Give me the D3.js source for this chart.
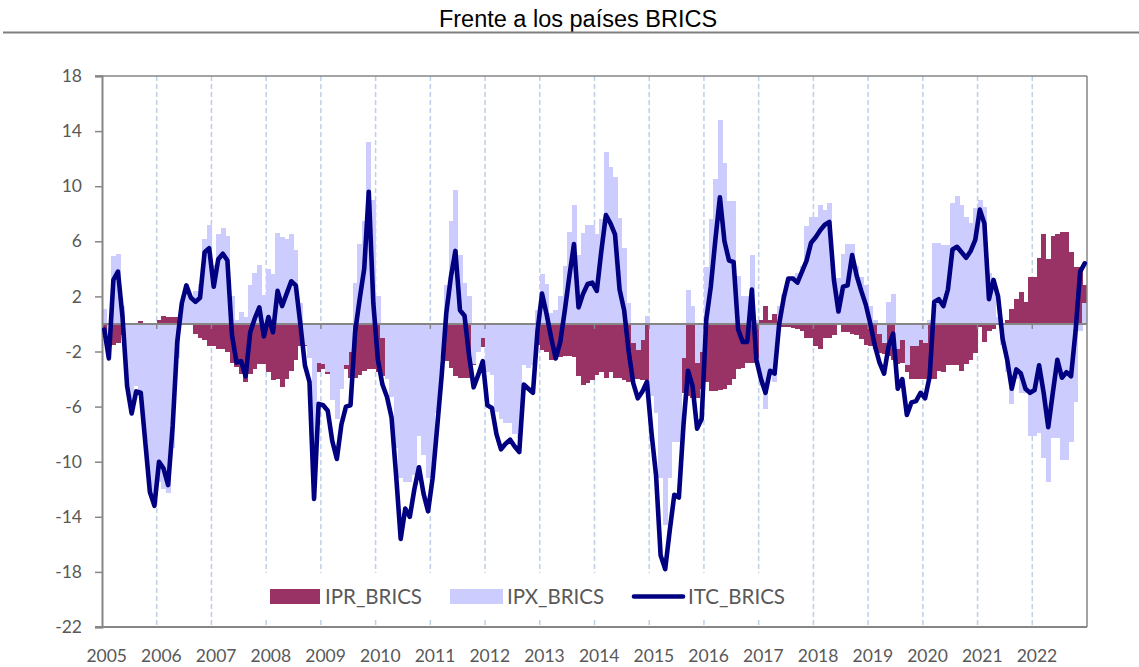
<!DOCTYPE html>
<html>
<head>
<meta charset="utf-8">
<script src="https://cdn.jsdelivr.net/npm/d3@7"></script>
<style>
  body { margin: 0; background: #fff; }
  text { font-family: Lato, "Open Sans", sans-serif; }
</style>
</head>
<body>
<svg id="chart"></svg>
<script>
// monthly values, one row per year (Jan..Dec), 2005-2022
var years = ["2005","2006","2007","2008","2009","2010","2011","2012","2013",
             "2014","2015","2016","2017","2018","2019","2020","2021","2022"];
var yTicks = [18, 14, 10, 6, 2, -2, -6, -10, -14, -18, -22];

var ipr = [
  -0.5, -1.6, -1.5, -1.4, -0.8, -0.3, 0.0, 0.1, 0.2, 0.0, 0.0, -0.2,
  0.3, 0.6, 0.5, 0.5, 0.5, 0.1, 0.0, -0.1, -0.7, -1.0, -1.2, -1.6,
  -1.6, -1.8, -1.8, -2.0, -2.8, -3.1, -3.6, -4.2, -3.6, -3.3, -2.9, -2.9,
  -3.5, -4.1, -4.0, -4.6, -4.0, -3.4, -2.6, -1.6, -1.6, -2.0, -2.8, -3.5,
  -3.3, -3.6, -3.2, -3.3, -3.3, -3.3, -3.9, -3.9, -3.7, -3.4, -3.3, -3.3,
  -3.5, -3.8, -3.0, -2.5, -3.0, -4.0, -2.0, -2.5, -2.3, -2.2, -2.6, -2.5,
  -2.0, -0.8, -1.0, -2.7, -3.2, -3.8, -3.9, -3.9, -3.9, -3.0, -1.7, -1.7,
  -2.0, -2.2, -2.3, -2.4, -2.0, -1.8, -1.5, -1.3, -1.5, -1.6, -1.8, -1.5,
  -1.9, -2.0, -2.6, -2.4, -2.4, -2.3, -2.3, -2.4, -3.8, -4.4, -4.3, -4.1,
  -3.7, -3.5, -3.9, -3.5, -3.9, -3.9, -4.1, -4.2, -4.0, -4.0, -4.1, -4.1,
  -4.5, -4.0, -5.0, -3.2, -3.8, -3.8, -4.0, -5.0, -5.2, -5.4, -5.4, -4.7,
  -4.2, -4.9, -4.9, -4.8, -4.7, -4.4, -4.0, -3.3, -3.2, -2.8, -2.8, -2.5,
  0.3, 1.3, 0.3, 0.7, 0.1, -0.2, -0.2, -0.3, -0.4, -0.5, -1.0, -1.0,
  -1.6, -1.8, -1.0, -1.0, -0.8, 0.0, -0.6, -0.6, -0.7, -0.8, -1.1, -1.5,
  -1.6, -1.8, -2.1, -2.2, -2.3, -2.6, -2.9, -2.8, -3.5, -4.0, -4.0, -4.0,
  -4.0, -4.0, -4.0, -3.4, -3.5, -3.0, -3.0, -3.0, -3.4, -2.9, -2.6, -2.1,
  -0.2, -1.3, -0.5, -0.4, -0.1, 0.0, 0.3, 1.1, 1.8, 2.3, 1.6, 3.4,
  3.4, 4.8, 6.5, 4.7, 6.4, 6.5, 6.7, 6.7, 5.2, 4.1, 4.1, 2.8
];

var ipx = [
  1.1, -0.9, 4.9, 5.1, 1.3, -4.2, -6.5, -4.5, -5.0, -8.6, -12.0, -12.8,
  -11.5, -12.0, -12.3, -9.0, -2.5, 1.5, 2.7, 2.0, 2.4, 2.9, 6.2, 7.2,
  4.3, 6.5, 7.0, 6.4, 2.0, 0.3, 0.9, 0.5, 2.8, 3.7, 4.3, 2.1,
  4.0, 3.6, 6.6, 6.3, 6.2, 6.5, 5.4, 1.5, -1.5, -2.5, -9.0, -2.8,
  -2.9, -3.5, -5.5, -6.9, -4.7, -3.0, -2.0, 3.0, 5.8, 7.5, 13.2, 9.0,
  2.0, -1.0, -4.0, -5.3, -9.0, -11.2, -11.5, -11.5, -11.0, -8.1, -9.5, -11.2,
  -11.2, -6.5, -2.5, 2.8, 7.5, 9.7, 5.0, 3.0, 2.0, -2.9, -2.0, -1.0,
  -3.5, -3.7, -6.4, -6.9, -7.2, -7.2, -8.0, -8.3, -3.0, -3.2, -3.0, 1.0,
  3.6, 2.9, 0.8, 1.0, 2.0, 4.2, 6.7, 8.6, 5.0, 6.6, 7.2, 7.2,
  6.5, 7.6, 12.5, 11.4, 10.7, 7.7, 5.5, 1.5, -1.4, -1.9, -1.2, 0.6,
  -5.2, -6.5, -11.2, -14.6, -11.2, -8.6, -8.6, -2.5, 2.5, 1.3, -2.8, -2.0,
  4.1, 7.6, 10.5, 14.8, 11.7, 8.9, 8.9, 3.5, 2.0, 2.0, 5.0, 0.3,
  -4.5, -6.2, -3.8, -4.2, 1.3, 2.2, 3.2, 3.5, 3.7, 4.2, 7.1, 7.8,
  7.8, 8.6, 8.3, 8.8, 3.2, 3.3, 5.1, 5.8, 5.8, 4.2, 3.4, 2.8,
  1.3, 0.3, -0.7, -1.4, 1.6, 2.2, -1.8, -1.2, -3.0, -1.6, -1.6, -1.2,
  -1.4, 0.3, 5.9, 5.9, 5.7, 5.7, 8.8, 9.3, 8.6, 7.8, 7.3, 8.4,
  9.0, 8.5, 3.7, 3.2, 0.5, -1.5, -3.5, -5.8, -4.0, -5.0, -5.0, -8.1,
  -8.1, -7.9, -9.7, -11.5, -8.3, -8.3, -9.9, -9.9, -8.6, -5.7, -0.5, 1.5
];

var itc = [
  -0.4, -2.5, 3.2, 3.8, 0.5, -4.5, -6.5, -4.9, -5.0, -8.6, -12.2, -13.2,
  -10.0, -10.5, -11.7, -7.4, -1.3, 1.5, 2.8, 1.9, 1.6, 1.9, 5.2, 5.5,
  2.7, 4.7, 5.1, 4.6, -0.8, -2.8, -2.7, -3.8, -0.6, 0.4, 1.2, -0.9,
  0.5, -0.6, 2.4, 1.3, 2.2, 3.1, 2.8, 0.0, -3.0, -4.2, -12.7, -5.8,
  -5.9, -6.3, -8.5, -9.8, -7.3, -6.0, -5.9, -0.6, 1.8, 4.0, 9.6, 1.5,
  -2.6, -4.4, -5.3, -6.8, -11.0, -15.6, -13.4, -14.0, -12.0, -10.4, -12.3, -13.6,
  -11.2, -7.5, -3.7, 0.8, 3.4, 5.3, 1.0, 0.6, -2.3, -4.6, -3.7, -2.7,
  -5.9, -6.1, -8.0, -9.1, -8.7, -8.4, -8.9, -9.3, -4.4, -4.7, -5.0, -0.5,
  2.2, 0.7, -1.0, -2.5, -1.3, 1.0, 3.5, 5.8, 1.2, 2.2, 2.9, 3.0,
  2.4, 5.3, 7.9, 7.3, 6.5, 2.5, 1.0, -2.0, -4.3, -5.4, -4.9, -4.2,
  -7.9, -11.0, -16.8, -17.8, -15.0, -12.4, -12.6, -7.4, -3.4, -4.5, -7.6, -6.9,
  0.3, 2.7, 6.1, 9.2, 6.0, 4.6, 4.5, -0.4, -1.3, -1.3, 2.5, -2.6,
  -4.0, -5.0, -3.4, -3.6, 0.0, 1.9, 3.3, 3.3, 3.0, 3.8, 4.6, 5.9,
  6.3, 6.8, 7.2, 7.4, 3.2, 0.9, 2.7, 2.8, 5.0, 3.5, 2.4, 1.4,
  0.0, -1.6, -2.8, -3.6, -1.6, -0.7, -4.7, -4.0, -6.6, -5.7, -5.6, -5.0,
  -5.4, -3.8, 1.6, 1.8, 1.3, 2.5, 5.4, 5.6, 5.2, 4.8, 5.3, 6.1,
  8.3, 7.3, 1.8, 3.2, 2.0, -1.1, -2.6, -4.7, -3.3, -3.6, -4.7, -5.0,
  -4.8, -3.0, -5.0, -7.5, -5.0, -2.6, -3.9, -3.5, -3.8, -0.5, 3.8, 4.4
];

var svgWidth = 1139, svgHeight = 667;
var plotLeft = 102, plotRight = 1087, plotTop = 76, plotBottom = 627;
var axisGray = "#868686", textGray = "#595959";

var svg = d3.select("#chart")
    .attr("width", svgWidth)
    .attr("height", svgHeight);

var x = d3.scaleLinear().domain([0, itc.length]).range([plotLeft, plotRight]);
var y = d3.scaleLinear().domain([-22, 18]).range([plotBottom, plotTop]);

// title + rule under it
svg.append("text")
    .attr("x", 578).attr("y", 26.5)
    .attr("text-anchor", "middle")
    .style("font-family", "'Liberation Sans', Arial, sans-serif")
    .style("font-size", "23.5px")
    .attr("fill", "#000")
    .text("Frente a los países BRICS");
svg.append("line")
    .attr("x1", 3).attr("x2", svgWidth).attr("y1", 32.5).attr("y2", 32.5)
    .attr("stroke", "#7f7f7f").attr("stroke-width", 2);

// dashed year gridlines
svg.append("g").selectAll("line")
    .data(d3.range(1, years.length))
    .enter().append("line")
    .attr("x1", function(d) { return x(d * 12); })
    .attr("x2", function(d) { return x(d * 12); })
    .attr("y1", plotTop).attr("y2", plotBottom)
    .attr("stroke", "#bcd0e8")
    .attr("stroke-width", 1.5)
    .attr("stroke-dasharray", "5,3");

// legend background hides gridlines behind it
svg.append("rect")
    .attr("x", 262).attr("y", 573).attr("width", 533).attr("height", 45)
    .attr("fill", "#fff");

function drawBars(data, color) {
    svg.append("g")
        .attr("shape-rendering", "crispEdges")
        .selectAll("rect")
        .data(data)
        .enter().append("rect")
        .attr("x", function(d, i) { return x(i); })
        .attr("width", function(d, i) { return x(i + 1) - x(i) + 0.4; })
        .attr("y", function(d) { return y(Math.max(0, d)); })
        .attr("height", function(d) { return Math.abs(y(d) - y(0)); })
        .attr("fill", color);
}
drawBars(ipr, "#993366");
drawBars(ipx, "#ccccff");

// y axis
var yAxis = d3.axisLeft(y)
    .tickValues(yTicks)
    .tickSize(7)
    .tickPadding(13)
    .tickFormat(d3.format("d"));
var gy = svg.append("g")
    .attr("transform", "translate(" + plotLeft + ",0)")
    .call(yAxis);
gy.select(".domain").attr("stroke", axisGray).attr("stroke-width", 2);
gy.selectAll(".tick line").attr("stroke", axisGray).attr("stroke-width", 1.5);
gy.selectAll(".tick text")
    .attr("fill", textGray)
    .style("font-size", "17.5px")
    .text(function(d) { return String(d).replace("\u2212", "-"); });

// frame: top, right, bottom
svg.append("line").attr("x1", 95).attr("x2", plotRight).attr("y1", plotTop).attr("y2", plotTop)
    .attr("stroke", axisGray).attr("stroke-width", 1.5);
svg.append("line").attr("x1", plotRight).attr("x2", plotRight).attr("y1", plotTop).attr("y2", plotBottom)
    .attr("stroke", axisGray).attr("stroke-width", 1.5);
svg.append("line").attr("x1", 95).attr("x2", plotRight).attr("y1", plotBottom).attr("y2", plotBottom)
    .attr("stroke", axisGray).attr("stroke-width", 2);

// x labels
svg.append("g").selectAll("text")
    .data(years)
    .enter().append("text")
    .attr("x", function(d, i) { return x(i * 12) + 4.7; })
    .attr("y", 661.5)
    .attr("text-anchor", "middle")
    .attr("fill", textGray)
    .style("font-size", "17.5px")
    .text(function(d) { return d; });

// zero line with small year ticks
svg.append("line")
    .attr("x1", plotLeft).attr("x2", plotRight).attr("y1", y(0)).attr("y2", y(0))
    .attr("stroke", axisGray).attr("stroke-width", 2);
svg.append("g").selectAll("line")
    .data(d3.range(1, years.length))
    .enter().append("line")
    .attr("x1", function(d) { return x(d * 12); })
    .attr("x2", function(d) { return x(d * 12); })
    .attr("y1", y(0)).attr("y2", y(0) + 5)
    .attr("stroke", axisGray).attr("stroke-width", 1.5);

// ITC line
var line = d3.line()
    .x(function(d, i) { return x(i + 0.5); })
    .y(function(d) { return y(d); });
svg.append("path")
    .datum(itc)
    .attr("d", line)
    .attr("fill", "none")
    .attr("stroke", "#000080")
    .attr("stroke-width", 4.6)
    .attr("stroke-linejoin", "round")
    .attr("stroke-linecap", "round");

// legend
var legend = svg.append("g").style("font-size", "20.5px").attr("fill", textGray);
legend.append("rect").attr("x", 270).attr("y", 589).attr("width", 50).attr("height", 15).attr("fill", "#993366");
legend.append("text").attr("x", 325).attr("y", 604).text("IPR_BRICS");
legend.append("rect").attr("x", 450).attr("y", 589).attr("width", 53).attr("height", 15).attr("fill", "#ccccff");
legend.append("text").attr("x", 507).attr("y", 604).text("IPX_BRICS");
legend.append("line").attr("x1", 634).attr("x2", 683).attr("y1", 596.5).attr("y2", 596.5)
    .attr("stroke", "#000080").attr("stroke-width", 4.6).attr("stroke-linecap", "round");
legend.append("text").attr("x", 688).attr("y", 604).text("ITC_BRICS");
</script>
</body>
</html>
